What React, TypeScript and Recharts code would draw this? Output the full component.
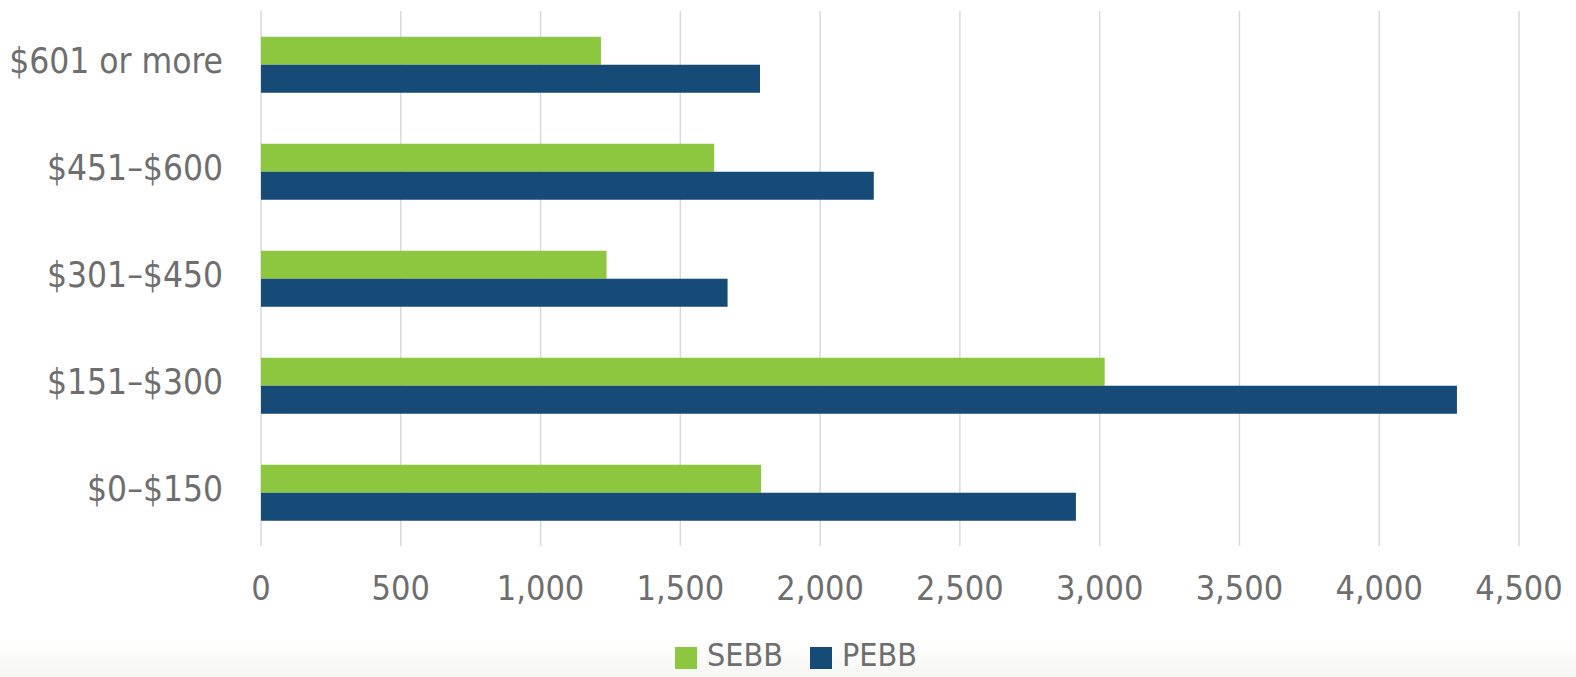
import { Bar, BarChart, CartesianGrid, Legend, XAxis, YAxis } from "recharts";

const categories = ["$601 or more", "$451–$600", "$301–$450", "$151–$300", "$0–$150"];
const sebb = [1216, 1621, 1236, 3018, 1789];
const pebb = [1785, 2192, 1669, 4278, 2915];
const xTicks = [0, 500, 1000, 1500, 2000, 2500, 3000, 3500, 4000, 4500];

const data = categories.map((name, i) => ({ name, SEBB: sebb[i], PEBB: pebb[i] }));

const FONT = "'Liberation Sans Narrow', 'DejaVu Sans Condensed', 'Open Sans', sans-serif";
const TEXT = "#6e6e6e";
const GREEN = "#8dc63f";
const BLUE = "#164a77";

type TickProps = { x?: number; y?: number; payload?: { value: string } };

// category labels sit a few px above the bar pair centre in the original
function CategoryTick({ x = 0, y = 0, payload }: TickProps) {
  return (
    <text x={x} y={y - 4} dy="0.355em" textAnchor="end" fontSize={35} fill={TEXT} fontFamily={FONT}>
      {payload?.value}
    </text>
  );
}

function LegendBox() {
  const items = [
    { label: "SEBB", color: GREEN },
    { label: "PEBB", color: BLUE },
  ];
  return (
    <div
      style={{
        display: "flex",
        justifyContent: "center",
        gap: 27,
        fontFamily: FONT,
        color: TEXT,
        fontSize: 32,
        marginTop: 5,
      }}
    >
      {items.map((it) => (
        <div key={it.label} style={{ display: "flex", alignItems: "center", gap: 10 }}>
          <span style={{ width: 22, height: 22, background: it.color, display: "inline-block", marginTop: 6 }} />
          <span>{it.label}</span>
        </div>
      ))}
    </div>
  );
}

export default function App() {
  return (
    <div
      style={{
        position: "absolute",
        left: 0,
        top: 0,
        width: 1576,
        height: 677,
        background: "linear-gradient(to bottom, #ffffff 0%, #ffffff 95%, #f5f5f2 100%)",
        overflow: "hidden",
      }}
    >
      <BarChart
        width={1576}
        height={677}
        data={data}
        layout="vertical"
        margin={{ top: 11, right: 57, left: 0, bottom: 0 }}
        barGap={0}
        barCategoryGap="24%"
      >
        <CartesianGrid horizontal={false} stroke="#d9d9d9" strokeWidth={1.5} />
        <XAxis
          type="number"
          domain={[0, 4500]}
          ticks={xTicks}
          tickFormatter={(v: number) => v.toLocaleString("en-US")}
          axisLine={false}
          tickLine={false}
          tickSize={0}
          tickMargin={30}
          height={85}
          interval={0}
          tick={{ fontSize: 34, fill: TEXT, fontFamily: FONT }}
        />
        <YAxis
          type="category"
          dataKey="name"
          width={261}
          axisLine={false}
          tickLine={false}
          tickSize={0}
          tickMargin={38}
          interval={0}
          tick={<CategoryTick />}
        />
        <Legend
          verticalAlign="bottom"
          height={46}
          wrapperStyle={{ left: 0, width: 1576, paddingLeft: 16, boxSizing: "border-box" }}
          content={() => <LegendBox />}
        />
        <Bar dataKey="SEBB" fill={GREEN} isAnimationActive={false} />
        <Bar dataKey="PEBB" fill={BLUE} isAnimationActive={false} />
      </BarChart>
    </div>
  );
}
